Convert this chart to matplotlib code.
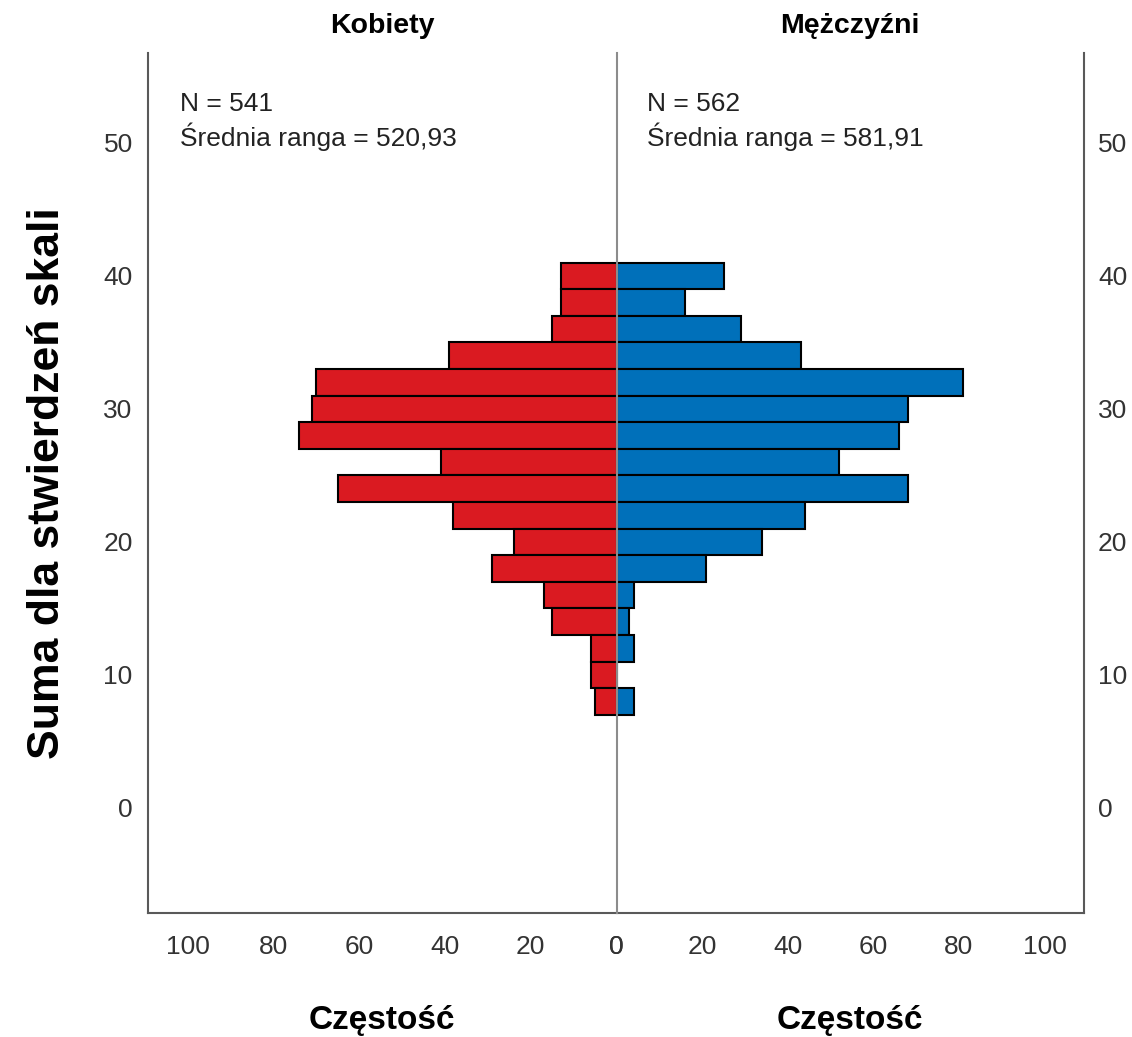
import matplotlib
matplotlib.use("Agg")
import matplotlib.pyplot as plt

plt.rcParams['font.family'] = ['Liberation Sans', 'DejaVu Sans']

# Data
bin_centers = [40, 38, 36, 34, 32, 30, 28, 26, 24, 22, 20, 18, 16, 14, 12, 10, 8]
kobiety = [13, 13, 15, 39, 70, 71, 74, 41, 65, 38, 24, 29, 17, 15, 6, 6, 5]
mezczyzni = [25, 16, 29, 43, 81, 68, 66, 52, 68, 44, 34, 21, 4, 3, 4, 0, 4]
x_ticks = [0, 20, 40, 60, 80, 100]
y_ticks = [0, 10, 20, 30, 40, 50]
titles = ["Kobiety", "Mężczyźni"]
n_texts = ["N = 541\nŚrednia ranga = 520,93", "N = 562\nŚrednia ranga = 581,91"]
ylabel = "Suma dla stwierdzeń skali"
xlabel = "Częstość"

red = "#DA1A21"
blue = "#0070BA"
spine_c = "#595959"
tick_c = "#333333"

W, H = 1132, 1037
fig = plt.figure(figsize=(W / 100, H / 100), dpi=100)

x0, xc, x1 = 148, 616.5, 1084
ytop, ybot = 53, 913
axL = fig.add_axes([x0 / W, 1 - ybot / H, (xc - x0) / W, (ybot - ytop) / H])
axR = fig.add_axes([xc / W, 1 - ybot / H, (x1 - xc) / W, (ybot - ytop) / H])

XMAX = 109.2
YLIM = (-7.9, 56.75)

axL.barh(bin_centers, kobiety, height=2, color=red, edgecolor="black", linewidth=1.5, zorder=2)
axR.barh(bin_centers, mezczyzni, height=2, color=blue, edgecolor="black", linewidth=1.5, zorder=2)

axL.set_xlim(XMAX, 0)
axR.set_xlim(0, XMAX)
for ax in (axL, axR):
    ax.set_ylim(*YLIM)
    ax.set_xticks(x_ticks)
    ax.set_yticks(y_ticks)
    ax.tick_params(length=0, labelsize=19, colors=tick_c, pad=16)
    ax.patch.set_alpha(0)
    for s in ax.spines.values():
        s.set_color(spine_c)
        s.set_linewidth(1.5)

axL.spines['top'].set_visible(False)
axL.spines['right'].set_visible(False)
axR.spines['top'].set_visible(False)
axR.spines['left'].set_color("#8c8c8c")
axR.spines['left'].set_zorder(3)
axR.yaxis.tick_right()
axL.tick_params(axis='y', pad=11)
axR.tick_params(axis='y', pad=10)

for ax, t in zip((axL, axR), titles):
    ax.text(0.5, 1.031, t, transform=ax.transAxes, ha='center', va='center',
            fontsize=20.5, fontweight='bold', color='black')
    ax.text(0.5, -0.125, xlabel, transform=ax.transAxes, ha='center', va='center',
            fontsize=24, fontweight='bold', color='black')

axL.text(0.068, 0.955, n_texts[0], transform=axL.transAxes, ha='left', va='top',
         fontsize=19, color='#222222', linespacing=1.3)
axR.text(0.065, 0.955, n_texts[1], transform=axR.transAxes, ha='left', va='top',
         fontsize=19, color='#222222', linespacing=1.3)

fig.text(48 / W, 1 - 483 / H, ylabel, rotation=90, ha='center', va='center',
         fontsize=32, fontweight='bold', color='black')

fig.savefig("out.png", dpi=100, facecolor='white')
